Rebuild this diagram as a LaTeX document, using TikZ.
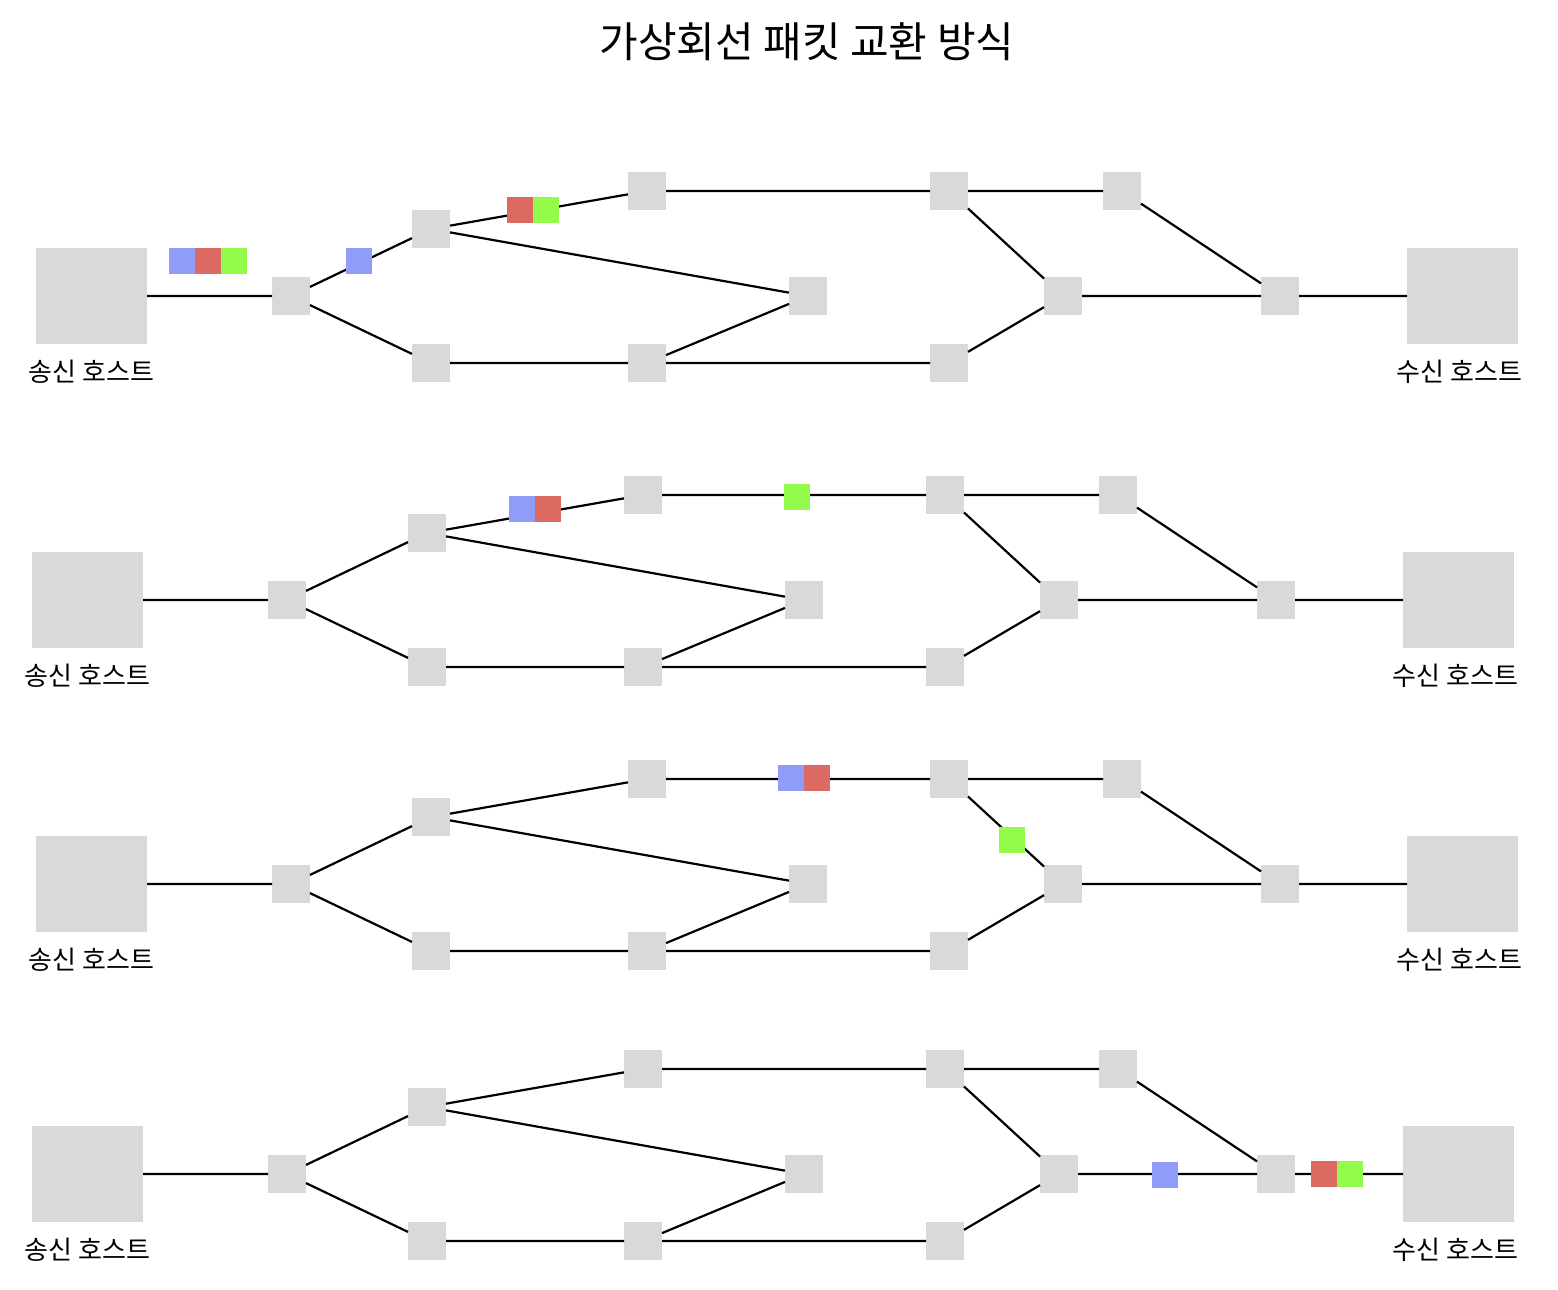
\documentclass[tikz,border=0pt]{standalone}
\usepackage{fontspec}
\setmainfont{Noto Sans CJK KR}
\usetikzlibrary{positioning}

\definecolor{hostgray}{HTML}{D9D9D9}
\definecolor{pkblue}{HTML}{8F9CF8}
\definecolor{pkred}{HTML}{DD6A62}
\definecolor{pkgreen}{HTML}{94FB4A}

\begin{document}
\begin{tikzpicture}[
  x=1pt,y=-1pt,
  host/.style={fill=hostgray,minimum width=111pt,minimum height=96pt,inner sep=0pt,outer sep=0pt},
  sw/.style={fill=hostgray,minimum size=38pt,inner sep=0pt,outer sep=0pt},
  pk/.style={minimum size=26pt,inner sep=0pt,outer sep=0pt},
  lbl/.style={font=\fontsize{26}{30}\selectfont,inner sep=0pt},
  ln/.style={line width=2.2pt}
]
\path[use as bounding box] (0,0) rectangle (1558,1290);
\node[font=\fontsize{42}{50}\selectfont] (title) at (807,42) {가상회선 패킷 교환 방식};

% ---- the same network, four snapshots ----
\foreach \i/\dx/\dy in {1/0/0,2/-4/304,3/0/588,4/-4/878}{
  \begin{scope}[shift={(\dx,\dy)}]
  \node[host] (src\i) at (91.5,296) {};
  \node[host] (dst\i) at (1462.5,296) {};
  \node[lbl,below=16pt of src\i] (srcl\i) {송신 호스트};
  \node[lbl,below=16pt of dst\i,xshift=-3pt] (dstl\i) {수신 호스트};
  \node[sw] (a\i) at (291,296) {};
  \node[sw] (b\i) at (431,229) {};
  \node[sw] (c\i) at (431,363) {};
  \node[sw] (d\i) at (647,191) {};
  \node[sw] (e\i) at (808,296) {};
  \node[sw] (f\i) at (647,363) {};
  \node[sw] (g\i) at (949,191) {};
  \node[sw] (h\i) at (949,363) {};
  \node[sw] (i\i) at (1122,191) {};
  \node[sw] (j\i) at (1063,296) {};
  \node[sw] (k\i) at (1280,296) {};
  % links
  \draw[ln] (src\i) -- (a\i) (a\i) -- (b\i) (a\i) -- (c\i)
    (b\i) -- (d\i) (b\i) -- (e\i) (c\i) -- (f\i) (f\i) -- (e\i) (f\i) -- (h\i)
    (d\i) -- (g\i) (g\i) -- (i\i) (g\i) -- (j\i) (h\i) -- (j\i)
    (i\i) -- (k\i) (j\i) -- (k\i) (k\i) -- (dst\i);
  \end{scope}
}

% ---- packets ----
\node[pk,fill=pkblue] (blu1a) at (182,261) {};
\node[pk,fill=pkred,right=0pt of blu1a] (red1a) {};
\node[pk,fill=pkgreen,right=0pt of red1a] (grn1a) {};
\node[pk,fill=pkblue] (blu1b) at (359,261) {};
\node[pk,fill=pkred] (red1b) at (520,210) {};
\node[pk,fill=pkgreen,right=0pt of red1b] (grn1b) {};

\node[pk,fill=pkblue] (blu2) at (522,509) {};
\node[pk,fill=pkred,right=0pt of blu2] (red2) {};
\node[pk,fill=pkgreen] (grn2) at (797,497) {};

\node[pk,fill=pkblue] (blu3) at (791,778) {};
\node[pk,fill=pkred,right=0pt of blu3] (red3) {};
\node[pk,fill=pkgreen] (grn3) at (1012,840) {};

\node[pk,fill=pkblue] (blu4) at (1164.5,1174.5) {};
\node[pk,fill=pkred] (red4) at (1324,1174) {};
\node[pk,fill=pkgreen,right=0pt of red4] (grn4) {};
\end{tikzpicture}
\end{document}
